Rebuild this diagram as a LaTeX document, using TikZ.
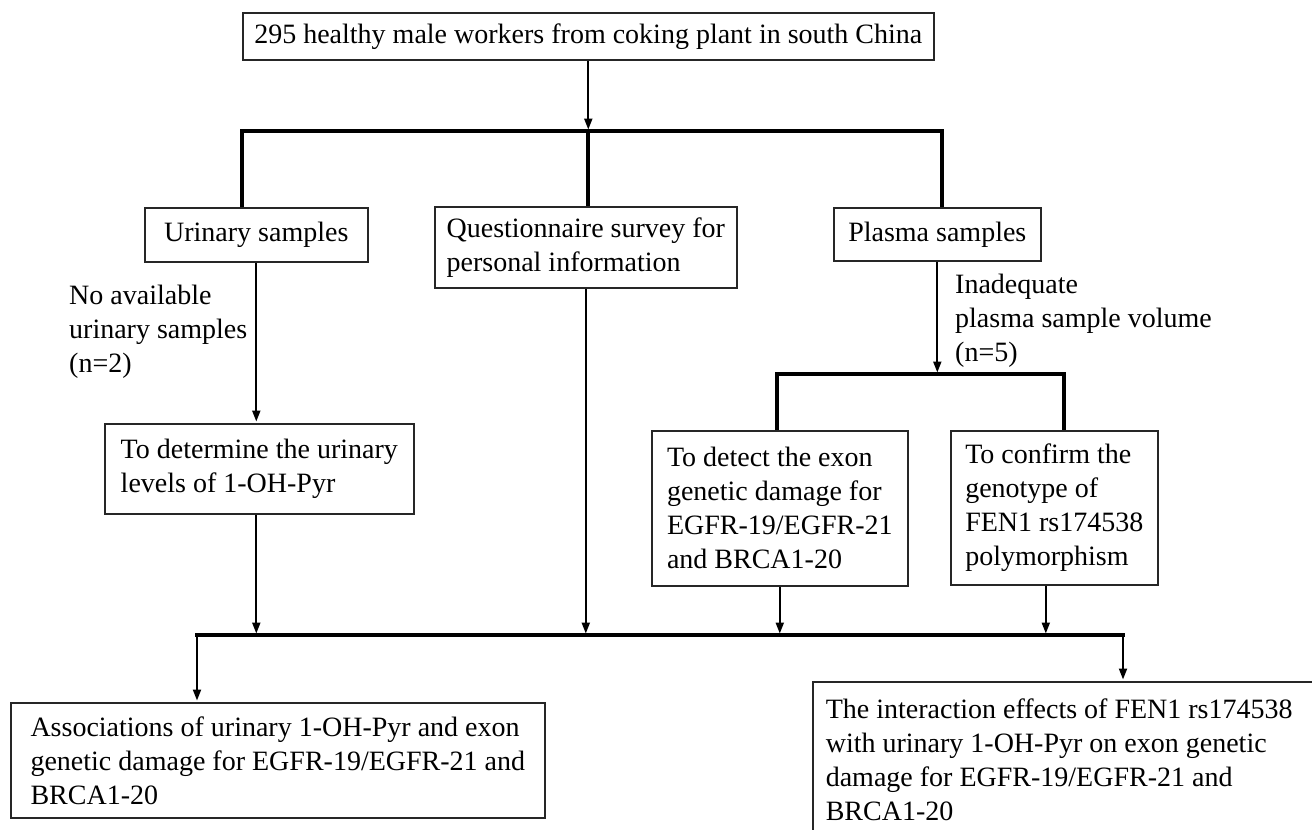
\documentclass[tikz,border=0pt]{standalone}
\usepackage{fontspec}
\setmainfont{Liberation Serif}
\usetikzlibrary{arrows.meta}
\begin{document}
\begin{tikzpicture}[x=1pt,y=-1pt,line join=miter,font=\fontsize{28}{34}\selectfont,
	box/.style={draw=black!85,line width=1.6pt,anchor=north west,align=left,inner sep=0pt},
	lab/.style={anchor=north west,align=left,inner sep=0pt},
	bar/.style={line width=3.8pt},
	arr/.style={line width=2pt,-{Triangle[length=11pt,width=8pt]},shorten >=1.5pt}]
	\useasboundingbox (0,0) rectangle (1312,830);
	\node[box,minimum width=691,minimum height=47] (top) at (242,12) {295 healthy male workers from coking plant in south China};
	\node[box,minimum width=223,minimum height=54] (urin) at (144,207) {Urinary samples};
	\node[box,minimum width=302,minimum height=81] (quest) at (434,206) {Questionnaire survey for\\personal information};
	\node[box,minimum width=207,minimum height=53] (plasma) at (833,207) {Plasma samples};
	\node[box,minimum width=309,minimum height=90] (determ) at (104,423) {To determine the urinary\\levels of 1-OH-Pyr};
	\node[box,minimum width=256,minimum height=155] (detect) at (651,430) {To detect the exon\\genetic damage for\\EGFR-19/EGFR-21\\and BRCA1-20};
	\node[box,minimum width=207,minimum height=154] (confirm) at (950,430) {To confirm the\\genotype of\\FEN1 rs174538\\polymorphism};
	\node[box,minimum width=534,minimum height=115] (assoc) at (10,702) {Associations of urinary 1-OH-Pyr and exon\\genetic damage for EGFR-19/EGFR-21 and\\BRCA1-20};
	\node[box,align=flush left,inner xsep=13pt,text width=520,minimum height=155] (inter) at (812,681) {The interaction effects of FEN1 rs174538\\with urinary 1-OH-Pyr on exon genetic\\damage for EGFR-19/EGFR-21 and\\BRCA1-20};
	\node[lab] (nolab) at (69,285) {No available\\urinary samples\\(n=2)};
	\node[lab] (inadlab) at (955,274) {Inadequate\\plasma sample volume\\(n=5)};
	\coordinate (b1l) at (242,131);
	\coordinate (b1r) at (942,131);
	\coordinate (b2l) at (777,374);
	\coordinate (b2r) at (1064,374);
	\coordinate (b3l) at (197,635);
	\coordinate (b3r) at (1123,635);
	\draw[bar] (b1l |- urin.north) -- (b1l) -- (b1r) -- (b1r |- plasma.north);
	\draw[bar] (top.south |- b1l) -- (top.south |- quest.north);
	\draw[arr] (top.south) -- (top.south |- b1l);
	\draw[arr] (urin.south) -- (urin.south |- determ.north);
	\draw[arr] (plasma.south) -- (plasma.south |- b2l);
	\draw[bar] (b2l |- detect.north) -- (b2l) -- (b2r) -- (b2r |- confirm.north);
	\draw[bar,line cap=rect] (b3l) -- (b3r);
	\draw[arr] (urin.south |- determ.south) -- (urin.south |- b3l);
	\draw[arr] (quest.south) -- (quest.south |- b3l);
	\draw[arr] (detect.south) -- (detect.south |- b3l);
	\draw[arr] ([xshift=-8.5pt]confirm.south) -- ([xshift=-8.5pt]confirm.south |- b3l);
	\draw[arr] (b3l) -- (b3l |- assoc.north);
	\draw[arr] (b3r) -- (b3r |- inter.north);
\end{tikzpicture}
\end{document}
